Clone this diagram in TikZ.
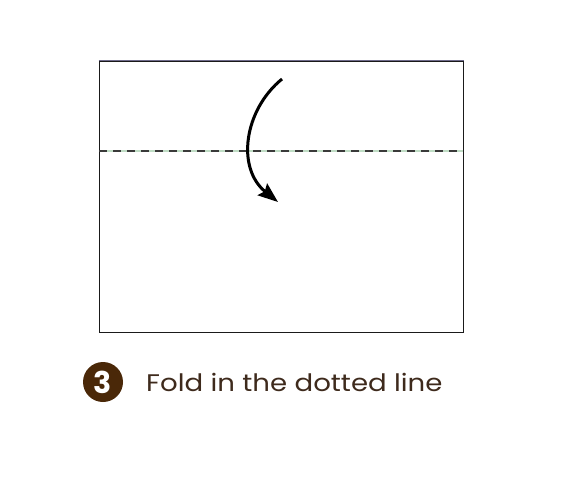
\documentclass[tikz,border=0pt]{standalone}
\usepackage{fontspec}
\setmainfont{Poppins}
\newfontfamily\capfont[FakeStretch=1.15]{Poppins}
\usepackage{tikz}
\usetikzlibrary{arrows.meta,positioning}
\definecolor{paperLine}{HTML}{1A1A1A}
\definecolor{paperTop}{HTML}{6E6A8A}
\definecolor{foldDash}{HTML}{3A3A3A}
\definecolor{foldGap}{HTML}{BFDCC4}
\definecolor{stepBrown}{HTML}{4A2808}
\definecolor{captionBrown}{HTML}{3E2A1C}
\tikzset{
  paper/.style={
    draw=paperLine, line width=1pt,
    minimum width=364pt, minimum height=271pt, inner sep=0pt,
  },
  foldline/.style={
    draw=foldDash, line width=1.2pt, dash pattern=on 8pt off 6pt,
  },
  foldarrow/.style={
    -{Stealth[length=20pt,width=15pt,inset=3pt]}, line width=3pt, black,
  },
  stepnum/.style={
    circle, fill=stepBrown, text=white, minimum size=40pt, inner sep=0pt,
    font=\fontsize{30}{30}\selectfont\bfseries,
  },
  caption/.style={
    text=captionBrown, font=\capfont\fontsize{24}{27}\selectfont, inner sep=0pt,
  },
}
\begin{document}
\begin{tikzpicture}[x=1pt,y=-1pt]
  \useasboundingbox (0,0) rectangle (572,483);

  % --- sheet of paper ---
  \node[paper] (sheet) at (281,196.5) {};
  \draw[paperTop, line width=1pt] (sheet.north west) -- (sheet.north east);

  % --- fold line ---
  \coordinate (foldL) at (99,151);
  \coordinate (foldR) at (463,151);
  \draw[foldGap, line width=1.2pt] (foldL) -- (foldR);
  \draw[foldline] (foldL) -- (foldR);

  % --- fold arrow ---
  \coordinate (arrStart) at (282,79);
  \coordinate (arrEnd) at (278,202);
  \draw[foldarrow] (arrStart) .. controls (244,110) and (236,168) .. (arrEnd);

  % --- step label ---
  \node[stepnum] (num) at (103,382) {3};
  \node[caption, anchor=west] (cap) at (146,382) {Fold in the dotted line};

\end{tikzpicture}
\end{document}
